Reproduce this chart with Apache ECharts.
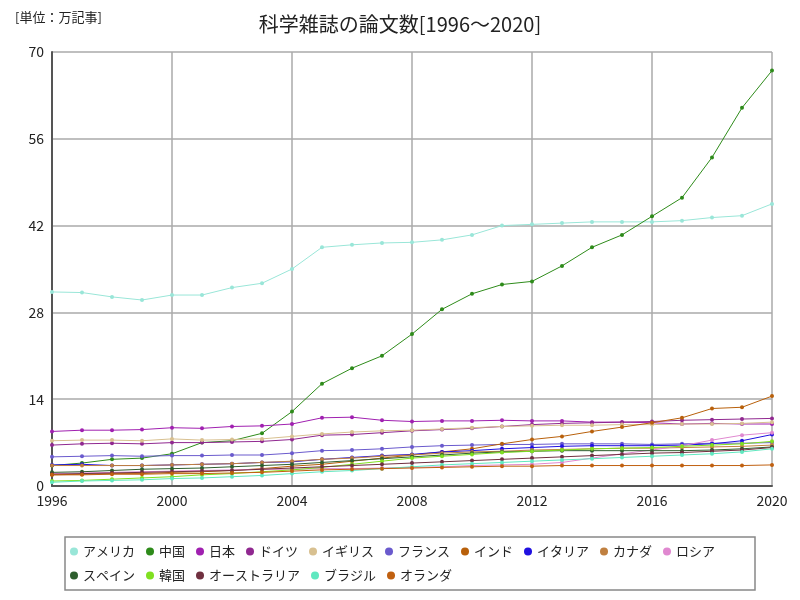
<!DOCTYPE html><html><head><meta charset="utf-8"><script src="https://cdn.jsdelivr.net/npm/echarts@6/dist/echarts.min.js"></script></head><body style="margin:0"><div id="c" style="width:800px;height:600px"></div><script>
const years=[];for(let y=1996;y<=2020;y++)years.push(String(y));
const names=['アメリカ','中国','日本','ドイツ','イギリス','フランス','インド','イタリア','カナダ','ロシア','スペイン','韓国','オーストラリア','ブラジル','オランダ'];
const colors=['#99e6d8','#2e8b1a','#a020b0','#902890','#d8c090','#6a5acd','#b8600b','#2010e0','#c08040','#e088d0','#2f5f2f','#80e020','#703040','#60e8c0','#c06010'];
const america=[31.3,31.2,30.5,30,30.8,30.8,32,32.7,35,38.5,38.9,39.2,39.3,39.7,40.5,42,42.2,42.4,42.6,42.6,42.6,42.8,43.3,43.6,45.5];
const china=[3.3,3.7,4.3,4.5,5.2,7,7.3,8.5,12,16.5,19,21,24.5,28.5,31,32.5,33,35.5,38.5,40.5,43.5,46.5,53,61,67];
const japan=[8.8,9,9,9.1,9.4,9.3,9.6,9.7,10,11,11.1,10.6,10.4,10.5,10.5,10.6,10.5,10.5,10.3,10.3,10.2,10.0,10.1,10.0,10.0];
const germany=[6.6,6.8,6.9,6.8,7,7,7.1,7.2,7.5,8.2,8.3,8.6,8.9,9.1,9.3,9.6,9.9,10.1,10.2,10.3,10.4,10.6,10.7,10.8,10.9];
const uk=[7.3,7.4,7.4,7.3,7.6,7.4,7.5,7.6,8,8.4,8.7,8.9,9.0,9.2,9.4,9.6,9.7,9.8,9.8,9.9,9.9,10.0,10.0,10.1,10.3];
const france=[4.7,4.8,4.9,4.8,4.9,4.9,5,5,5.3,5.7,5.8,6,6.3,6.5,6.6,6.7,6.7,6.8,6.8,6.8,6.7,6.8,6.9,6.9,7.0];
const india=[1.8,1.9,2,2,2.2,2.3,2.5,2.8,3.2,3.5,4,4.5,5,5.5,6,6.8,7.5,8,8.8,9.5,10.2,11,12.5,12.7,14.5];
const italy=[3.4,3.5,3.3,3.3,3.4,3.5,3.6,3.8,3.9,4.3,4.6,4.9,5.1,5.5,5.7,6.0,6.2,6.4,6.5,6.5,6.5,6.6,6.8,7.3,8.3];
const canada=[3.3,3.3,3.3,3.3,3.4,3.5,3.6,3.8,4.0,4.3,4.5,4.8,5.0,5.3,5.5,5.6,5.8,5.9,6,6.1,6.1,6.2,6.3,6.4,6.6];
const russia=[2.0,2.1,2.2,2.3,2.4,2.5,2.6,2.7,2.7,2.8,2.8,2.9,3.0,3.1,3.3,3.4,3.5,3.8,4.5,5.2,5.8,6.5,7.4,8.2,8.6];
const spain=[2.2,2.3,2.5,2.7,2.8,2.9,3.1,3.3,3.5,3.8,4.1,4.4,4.7,5.0,5.3,5.5,5.6,5.7,5.7,5.7,5.7,5.7,5.8,6.0,6.3];
const korea=[0.8,0.9,1.1,1.3,1.5,1.8,2.0,2.3,2.6,3.0,3.5,4.0,4.5,4.8,5.1,5.4,5.6,5.8,6.0,6.1,6.2,6.4,6.6,6.8,7.2];
const australia=[1.9,2.0,2.1,2.2,2.3,2.4,2.5,2.7,2.9,3.1,3.3,3.5,3.7,3.9,4.1,4.3,4.5,4.7,4.9,5.1,5.3,5.4,5.6,5.8,6.2];
const brazil=[0.6,0.8,0.9,1.0,1.2,1.3,1.5,1.7,2.0,2.3,2.5,2.8,3.1,3.4,3.6,3.8,4.0,4.2,4.4,4.6,4.8,5.0,5.2,5.5,6.0];
const netherlands=[1.8,1.8,1.9,1.9,2.0,2.0,2.1,2.2,2.4,2.6,2.7,2.8,2.9,3.0,3.1,3.2,3.2,3.3,3.3,3.3,3.3,3.3,3.3,3.3,3.4];
const data=[america,china,japan,germany,uk,france,india,italy,canada,russia,spain,korea,australia,brazil,netherlands];
const yTicks=[0,14,28,42,56,70];
const ff='"Noto Sans CJK JP", sans-serif';
const ch=echarts.init(document.getElementById('c'));
ch.setOption({
 textStyle:{fontFamily:ff},
 title:[{text:'科学雑誌の論文数[1996～2020]',left:'center',top:9,textStyle:{fontSize:20,fontWeight:'normal',color:'#222',fontFamily:ff}},
  {text:'[単位：万記事]',left:10,top:6,textStyle:{fontSize:13,fontWeight:'normal',color:'#222',fontFamily:ff}}],
 color:colors,
 grid:{left:52,right:28,top:52,bottom:114},
 legend:{data:names,left:65,top:537,width:690,itemWidth:8,itemHeight:8,icon:'circle',itemGap:11,borderColor:'#888',borderWidth:1.5,padding:[8,40,8,5],textStyle:{fontSize:13,color:'#222',fontFamily:ff}},
 xAxis:{type:'category',data:years,boundaryGap:false,
  axisLine:{lineStyle:{color:'#555',width:2}},axisTick:{show:false},
  axisLabel:{interval:3,color:'#222',fontSize:14,margin:8},
  splitLine:{show:true,interval:3,lineStyle:{color:'#aaa',width:1.5}}},
 yAxis:{type:'value',min:0,max:70,interval:14,
  axisLine:{show:true,lineStyle:{color:'#555',width:2}},axisTick:{show:false},
  axisLabel:{color:'#222',fontSize:14,customValues:yTicks},
  splitLine:{lineStyle:{color:'#aaa',width:1.5}}},
 series:names.map((n,i)=>({name:n,type:'line',data:data[i],symbol:'circle',symbolSize:4,lineStyle:{width:1},itemStyle:{color:colors[i]}}))
});
</script></body></html>
